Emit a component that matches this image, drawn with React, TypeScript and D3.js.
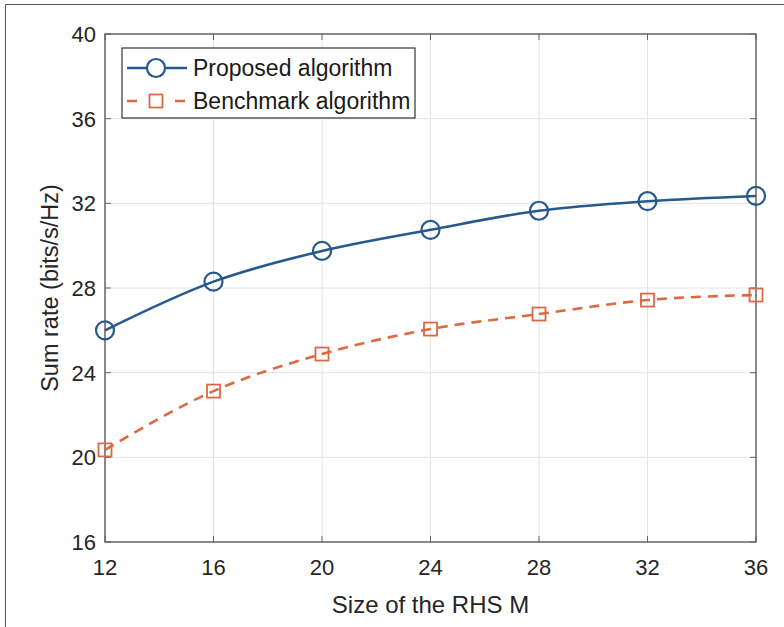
import React, { useEffect, useRef } from "react";
import * as d3 from "d3";

const sizes = [12, 16, 20, 24, 28, 32, 36];
const proposed = [26.0, 28.3, 29.75, 30.75, 31.65, 32.1, 32.35];
const benchmark = [20.35, 23.13, 24.88, 26.06, 26.77, 27.43, 27.67];
const yTicks = [16, 20, 24, 28, 32, 36, 40];
const seriesNames = ["Proposed algorithm", "Benchmark algorithm"];

const W = 784;
const H = 627;
const FONT = "Liberation Sans, Arial, sans-serif";
const BLUE = "#27598e";
const ORANGE = "#dc6943";

export default function App() {
  const svgRef = useRef<SVGSVGElement>(null);

  useEffect(() => {
    const svg = d3.select(svgRef.current);
    svg.selectAll("*").remove();

    const left = 105, right = 756, top = 34, bottom = 542;
    const x = d3.scaleLinear().domain([12, 36]).range([left, right]);
    const y = d3.scaleLinear().domain([16, 40]).range([bottom, top]);

    // outer frame (only top and left edges show in the figure)
    svg.append("path")
      .attr("d", `M5.5,${H} V4.5 H${W}`)
      .attr("fill", "none").attr("stroke", "#555").attr("stroke-width", 1);

    // grid
    const grid = svg.append("g");
    grid.selectAll("line.gx").data(sizes).join("line")
      .attr("x1", d => x(d)).attr("x2", d => x(d))
      .attr("y1", top).attr("y2", bottom)
      .attr("stroke", "#e4e4e4").attr("stroke-width", 1);
    grid.selectAll("line.gy").data(yTicks).join("line")
      .attr("x1", left).attr("x2", right)
      .attr("y1", d => y(d)).attr("y2", d => y(d))
      .attr("stroke", "#e4e4e4").attr("stroke-width", 1);

    // axes, ticks point inward on all four sides
    const tickLen = 6;
    const axisColor = "#666";
    const axes = svg.append("g");
    axes.selectAll("line.tb").data(sizes).join("line")
      .attr("x1", d => x(d)).attr("x2", d => x(d))
      .attr("y1", bottom).attr("y2", bottom - tickLen)
      .attr("stroke", axisColor);
    axes.selectAll("line.tt").data(sizes).join("line")
      .attr("x1", d => x(d)).attr("x2", d => x(d))
      .attr("y1", top).attr("y2", top + tickLen)
      .attr("stroke", axisColor);
    axes.selectAll("line.tl").data(yTicks).join("line")
      .attr("x1", left).attr("x2", left + tickLen)
      .attr("y1", d => y(d)).attr("y2", d => y(d))
      .attr("stroke", axisColor);
    axes.selectAll("line.tr").data(yTicks).join("line")
      .attr("x1", right).attr("x2", right - tickLen)
      .attr("y1", d => y(d)).attr("y2", d => y(d))
      .attr("stroke", axisColor);
    axes.append("rect")
      .attr("x", left).attr("y", top)
      .attr("width", right - left).attr("height", bottom - top)
      .attr("fill", "none").attr("stroke", axisColor).attr("stroke-width", 1.5);

    // tick labels
    svg.append("g").selectAll("text").data(sizes).join("text")
      .attr("x", d => x(d)).attr("y", 575)
      .attr("text-anchor", "middle")
      .attr("font-family", FONT).attr("font-size", 22).attr("fill", "#262626")
      .text(d => d);
    svg.append("g").selectAll("text").data(yTicks).join("text")
      .attr("x", left - 9).attr("y", d => y(d) + 8)
      .attr("text-anchor", "end")
      .attr("font-family", FONT).attr("font-size", 22).attr("fill", "#262626")
      .text(d => d);

    // axis titles
    svg.append("text")
      .attr("x", (left + right) / 2).attr("y", 613)
      .attr("text-anchor", "middle")
      .attr("font-family", FONT).attr("font-size", 24).attr("fill", "#262626")
      .text("Size of the RHS M");
    svg.append("text")
      .attr("transform", `translate(58, ${(top + bottom) / 2}) rotate(-90)`)
      .attr("text-anchor", "middle")
      .attr("font-family", FONT).attr("font-size", 23.5).attr("fill", "#262626")
      .text("Sum rate (bits/s/Hz)");

    // lines
    const line = d3.line<number>()
      .x((_, i) => x(sizes[i]))
      .y(d => y(d))
      .curve(d3.curveMonotoneX);

    svg.append("path").datum(proposed)
      .attr("d", line).attr("fill", "none")
      .attr("stroke", BLUE).attr("stroke-width", 2.6);
    svg.append("path").datum(benchmark)
      .attr("d", line).attr("fill", "none")
      .attr("stroke", ORANGE).attr("stroke-width", 2.6)
      .attr("stroke-dasharray", "10,7");

    // markers
    svg.append("g").selectAll("circle").data(proposed).join("circle")
      .attr("cx", (_, i) => x(sizes[i])).attr("cy", d => y(d))
      .attr("r", 9).attr("fill", "none")
      .attr("stroke", BLUE).attr("stroke-width", 2.2);
    const sq = 13;
    svg.append("g").selectAll("rect").data(benchmark).join("rect")
      .attr("x", (_, i) => x(sizes[i]) - sq / 2).attr("y", d => y(d) - sq / 2)
      .attr("width", sq).attr("height", sq).attr("fill", "none")
      .attr("stroke", ORANGE).attr("stroke-width", 1.8);

    // legend
    const lg = svg.append("g");
    lg.append("rect")
      .attr("x", 122).attr("y", 48).attr("width", 293).attr("height", 70)
      .attr("fill", "white").attr("stroke", "#333").attr("stroke-width", 1.2);
    const rows = [
      { name: seriesNames[0], color: BLUE, dash: null, y: 68 },
      { name: seriesNames[1], color: ORANGE, dash: "10,14", y: 101 },
    ];
    rows.forEach((r, i) => {
      lg.append("line")
        .attr("x1", 127).attr("x2", 187).attr("y1", r.y).attr("y2", r.y)
        .attr("stroke", r.color).attr("stroke-width", 2.6)
        .attr("stroke-dasharray", r.dash);
      if (i === 0) {
        lg.append("circle").attr("cx", 156).attr("cy", r.y).attr("r", 9)
          .attr("fill", "white").attr("stroke", r.color).attr("stroke-width", 2.2);
      } else {
        lg.append("rect").attr("x", 156 - sq / 2).attr("y", r.y - sq / 2)
          .attr("width", sq).attr("height", sq)
          .attr("fill", "white").attr("stroke", r.color).attr("stroke-width", 1.8);
      }
      lg.append("text")
        .attr("x", 193).attr("y", r.y + 8)
        .attr("font-family", FONT).attr("font-size", 23).attr("fill", "#1a1a1a")
        .text(r.name);
    });
  }, []);

  return (
    <svg ref={svgRef} width={W} height={H}
      style={{ position: "absolute", left: 0, top: 0, background: "white" }} />
  );
}
